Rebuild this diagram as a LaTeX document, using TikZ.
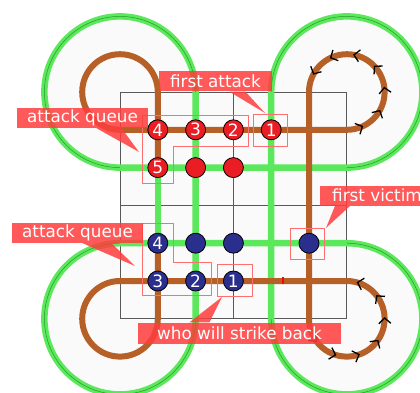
\documentclass[tikz,border=0pt]{standalone}
\usepackage{fontspec}
\setmainfont{DejaVu Sans}
\usetikzlibrary{arrows.meta,decorations.markings}
\definecolor{loopgreen}{RGB}{92,232,92}
\definecolor{pathbrown}{RGB}{182,96,40}
\definecolor{stonered}{RGB}{234,28,36}
\definecolor{stoneblue}{RGB}{42,46,140}
\definecolor{calloutred}{RGB}{255,60,60}
\definecolor{markred}{RGB}{255,110,110}

\begin{document}
\begin{tikzpicture}[x=37.8pt,y=-37.8pt,line join=round,
	gridline/.style={draw=black!65,line width=0.8pt},
	greenloop/.style={draw=loopgreen,line width=6.5pt},
	brownpath/.style={draw=pathbrown,line width=6pt},
	chevrons/.style={postaction={decorate},decoration={markings,mark=between positions #1 step 0.134 with {\arrow{Straight Barb[length=5.5pt,width=12pt,line width=1.3pt,color=black]}}}},
	redstone/.style={draw,circle,line width=0.8pt,fill=stonered,minimum size=20pt,inner sep=0pt,text=white,font=\fontsize{17}{17}\selectfont},
	bluestone/.style={redstone,fill=stoneblue},
	hilite/.style={draw=markred,line width=0.8pt},
	callout/.style={fill=calloutred,fill opacity=0.85,text opacity=1,text=white,inner sep=0pt,minimum height=20pt,font=\fontsize{16.8}{16.8}\selectfont},
	pointer/.style={fill=calloutred,fill opacity=0.85}]
	\useasboundingbox (-3.1746,-2.4339) rectangle (7.9365,7.9365);
	\clip (-3.1746,-2.4339) rectangle (7.9365,7.9365);
	\fill[black!2] (0,0) circle (2);
	\fill[black!2] (6,0) circle (2);
	\fill[black!2] (6,6) circle (2);
	\fill[black!2] (0,6) circle (2);
	\fill[black!2] (0,0) rectangle (6,6);
	\foreach \k in {0,...,6} {
		\draw[gridline] (\k,0) -- (\k,6);
		\draw[gridline] (0,\k) -- (6,\k);
	}
	\path[greenloop] (0,2) -- (6,2) arc (90:-180:2) -- (4,6) arc (180:-90:2) -- (0,4) arc (-90:-360:2) -- (2,0) arc (0:-270:2) -- cycle;
	\path[greenloop] (1,2) -- (1,4);
	\draw[black!60!green,line width=0.5pt,opacity=0.6] (6,2) arc (90:-180:2) (4,6) arc (180:-90:2) (0,4) arc (-90:-360:2) (2,0) arc (0:-270:2);
	\path[brownpath] (1,2) -- (1,0) arc (0:-270:1) -- (6,1) arc (90:-180:1) -- (5,6) arc (180:-90:1) -- (0,5) arc (-90:-360:1) -- (1,4);
	\path[chevrons={0.095 and 0.9}] (6,1) arc (90:-180:1);
	\path[chevrons={0.14 and 0.95}] (5,6) arc (180:-90:1);
	\draw[red,line width=1.2pt] (4.31,4.9) -- (4.31,5.08);
	\node[redstone] (R4)at(1.0,1.0) {4};
	\node[redstone] (R3)at(2.0,1.0) {3};
	\node[redstone] (R2)at(3.0,1.0) {2};
	\node[redstone] (R1)at(4.0,1.0) {1};
	\node[redstone] (R5)at(1.0,2.0) {5};
	\node[redstone] (R6)at(2.0,2.0) {};
	\node[redstone] (R7)at(3.0,2.0) {};
	\node[bluestone] (B4)at(1.0,4.0) {4};
	\node[bluestone] (B5)at(2.0,4.0) {};
	\node[bluestone] (B6)at(3.0,4.0) {};
	\node[bluestone] (B7)at(5.0,4.0) {};
	\node[bluestone] (B3)at(1.0,5.0) {3};
	\node[bluestone] (B2)at(2.0,5.0) {2};
	\node[bluestone] (B1)at(3.0,5.0) {1};
	\draw[hilite] (0.6,0.61) -- (3.39,0.61) -- (3.39,1.45) -- (1.4,1.45) -- (1.4,2.41) -- (0.6,2.41) -- cycle;
	\draw[hilite] (3.52,0.58) rectangle (4.44,1.45);
	\draw[hilite] (0.6,3.47) -- (1.4,3.47) -- (1.4,4.52) -- (2.43,4.52) -- (2.43,5.37) -- (0.6,5.37) -- cycle;
	\draw[hilite] (2.57,4.55) rectangle (3.49,5.4);
	\draw[hilite] (4.5,3.6) rectangle (5.42,4.42);
	\node[callout,minimum width=113pt] (C1)at(2.526,-0.278) {first attack};
	\node[callout,minimum width=131pt] (C2)at(-0.992,0.688) {attack queue};
	\node[callout,anchor=west,inner xsep=12pt] (C3)at(5.291,2.743) {first victim};
	\node[callout,minimum width=131pt] (C4)at(-1.124,3.73) {attack queue};
	\node[callout,minimum width=203pt,minimum height=21pt] (C5)at(3.161,6.376) {who will strike back};
	\coordinate (T1) at (3.836,0.556);
	\coordinate (T2) at (0.503,1.587);
	\coordinate (T3) at (5.45,3.598);
	\coordinate (T4) at (0.397,4.603);
	\coordinate (T5) at (2.698,5.423);
	\fill[pointer] ([xshift=14pt]C1.south) -- (T1) -- ([xshift=30pt]C1.south) -- cycle;
	\fill[pointer] ([xshift=14pt]C2.south) -- (T2) -- ([xshift=39pt]C2.south) -- cycle;
	\fill[pointer] ([xshift=15pt]C3.south west) -- (T3) -- ([xshift=30pt]C3.south west) -- cycle;
	\fill[pointer] ([xshift=5pt]C4.south) -- (T4) -- ([xshift=34pt]C4.south) -- cycle;
	\fill[pointer] ([xshift=-50pt]C5.north) -- (T5) -- ([xshift=-30pt]C5.north) -- cycle;
\end{tikzpicture}
\end{document}
